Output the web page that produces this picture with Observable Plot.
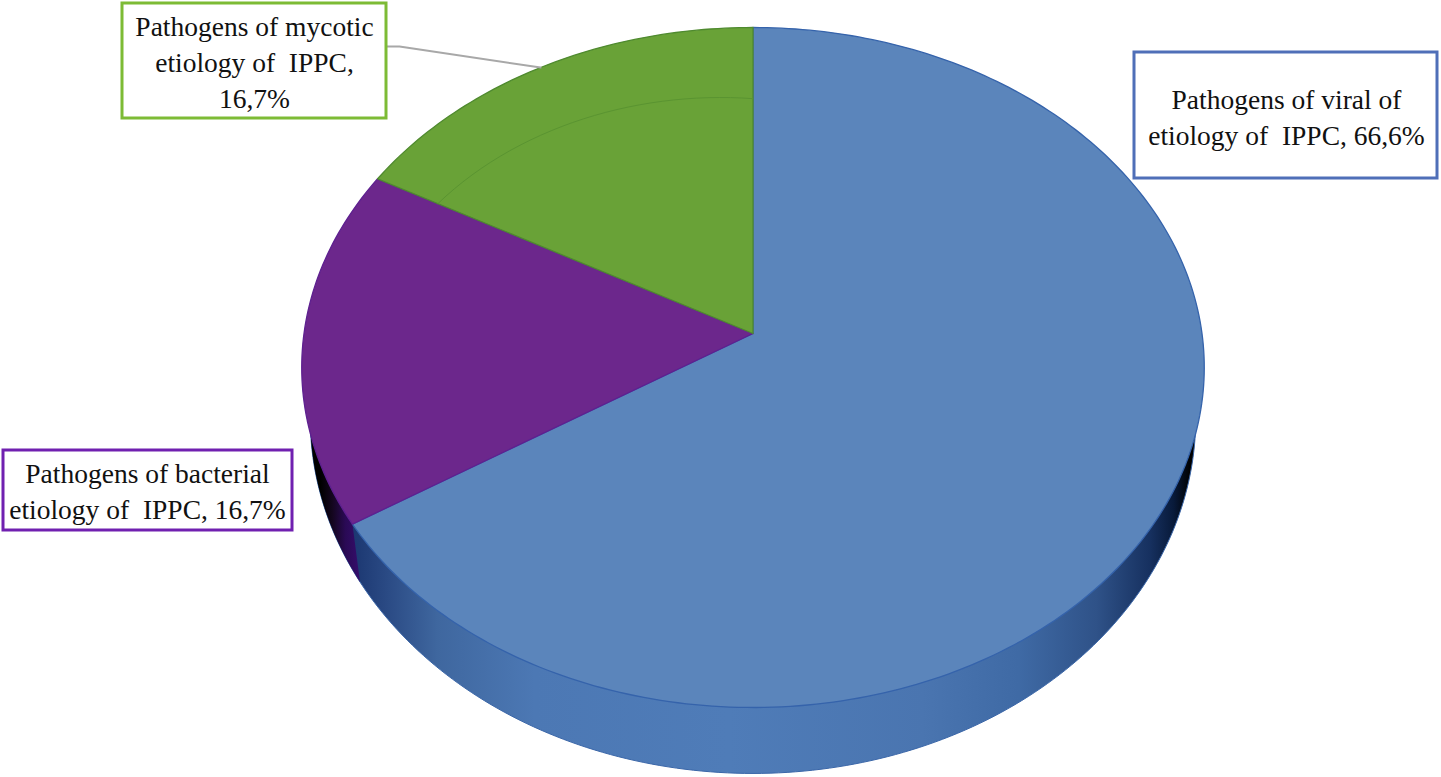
<!DOCTYPE html>
<html>
<head>
<meta charset="utf-8">
<script src="https://cdn.jsdelivr.net/npm/d3@7"></script>
<script src="https://cdn.jsdelivr.net/npm/@observablehq/plot@0.6"></script>
<style>
html,body{margin:0;padding:0;background:#fff}
svg{display:block}
</style>
</head>
<body>
<div id="chart"></div>
<script>
// Chart values
const categories = ["viral", "bacterial", "mycotic"];
const printedPercent = [66.6, 16.7, 16.7];       // as printed on the labels
const drawnShare = [66, 17, 17];                 // slice sizes
const labelText = [
  "Pathogens of viral of\netiology of  IPPC, ",
  "Pathogens of bacterial\netiology of  IPPC, ",
  "Pathogens of mycotic\netiology of  IPPC,\n"
];

// Styles
const topFill = ["#5b85bb", "#6c278c", "#69a237"];
const topEdge = ["#3563ab", "#5e2090", "#4f8a2f"];
const boxEdge = ["#4f6fb8", "#7020b0", "#7dbb35"];

// Layout of the perspective disc
const W = 1441, H = 777;
const cx = 752.5, persp = 0.1;
const topDisc = {a: 449, b: 336.6, y0: 333};
const lowDisc = {a: 440.5, b: 351.4, y0: 382.5};
const boxes = [
  {x1: 1134, x2: 1437, y1: 52, y2: 178, tx: 1286, ty: 115, fs: 27.5},
  {x1: 3, x2: 292, y1: 450, y2: 530, tx: 147, ty: 489, fs: 27.5},
  {x1: 122, x2: 386, y1: 3, y2: 118, tx: 254, ty: 60, fs: 27.5}
];
const leader = [{x: 386, y: 46}, {x: 399, y: 46}, {x: 540, y: 67}];

// Turn shares into projected outlines
const rad = d => d * Math.PI / 180;
const project = (deg, r, disc) => {
  const u = r * Math.sin(rad(deg)), v = r * Math.cos(rad(deg));
  const w = 1 + persp * v;
  return {x: cx + disc.a * u / w, y: disc.y0 - disc.b * v / w};
};
const arc = (from, to, r, disc) => {
  const n = Math.max(2, Math.ceil(Math.abs(to - from)));
  return d3.range(n + 1).map(i => project(from + (to - from) * i / n, r, disc));
};
const total = d3.sum(drawnShare);
let run = 0;
const slices = drawnShare.map((s, i) => {
  const from = run / total * 360;
  run += s;
  return {i, from, to: run / total * 360};
});
const apex = project(0, 0, topDisc);
const outline = s => [apex, ...arc(s.from, s.to, 1, topDisc), apex];

const lowRim = arc(0, 360, 1, lowDisc);
const b = slices[1];
const purpleWall = [...arc(b.from, b.from + 80, 1, lowDisc), apex, project(b.from, 1, topDisc)];
purpleWall.push(purpleWall[0]);
const g = slices[2];
const innerArc = d3.range(0, 31).map(i => {
  const t = i / 30;
  return project(360 - (360 - g.from) * t, 0.75 + 0.083 * t, topDisc);
});

const gradientDefs = () => {
  const svg = d3.create("svg:defs");
  const add = (id, stops) => {
    const lg = svg.append("linearGradient").attr("id", id)
      .attr("gradientUnits", "userSpaceOnUse")
      .attr("x1", 0).attr("x2", W).attr("y1", 0).attr("y2", 0);
    stops.forEach(([x, c]) => lg.append("stop").attr("offset", x / W).attr("stop-color", c));
  };
  add("wallBlue", [[340, "#16306a"], [388, "#2b4b85"], [437, "#3f679f"], [534, "#4c78b4"],
                   [728, "#4f7cb8"], [922, "#4a75b0"], [1018, "#3f6aa5"], [1096, "#2f5288"],
                   [1150, "#16305f"], [1173, "#081a3a"], [1190, "#000000"]]);
  add("wallPurple", [[320, "#000000"], [332, "#14061f"], [345, "#2a0a55"], [358, "#340d6a"]]);
  return svg.node();
};

const labels = boxes.map((b, i) => ({
  ...b,
  text: labelText[i] + String(printedPercent[i]).replace(".", ",") + "%",
  edge: boxEdge[i]
}));

const plot = Plot.plot({
  width: W, height: H, margin: 0,
  x: {domain: [0, W], range: [0, W], axis: null},
  y: {domain: [0, H], range: [0, H], axis: null},
  style: {background: "#fff", whiteSpace: "pre"},
  marks: [
    gradientDefs,
    Plot.line(lowRim, {x: "x", y: "y", fill: "url(#wallBlue)", stroke: "#3a66a8", strokeWidth: 1}),
    Plot.line(purpleWall, {x: "x", y: "y", fill: "url(#wallPurple)", stroke: "none"}),
    ...slices.map(s => Plot.line(outline(s), {
      x: "x", y: "y", fill: topFill[s.i], stroke: topEdge[s.i], strokeWidth: 1.3, strokeLinejoin: "round"
    })),
    Plot.line(innerArc, {x: "x", y: "y", stroke: "#5a9431", strokeWidth: 1}),
    Plot.line(leader, {x: "x", y: "y", stroke: "#a8a8a8", strokeWidth: 2}),
    Plot.rect(labels, {x1: "x1", x2: "x2", y1: "y1", y2: "y2", fill: "#fff", stroke: "edge", strokeWidth: 3}),
    ...labels.map(l => Plot.text([l], {
      x: "tx", y: "ty", text: "text", fontSize: l.fs, lineHeight: 1.31,
      fontFamily: "Liberation Serif", fill: "#111", textAnchor: "middle", lineAnchor: "middle"
    }))
  ]
});
document.getElementById("chart").append(plot);
</script>
</body>
</html>
